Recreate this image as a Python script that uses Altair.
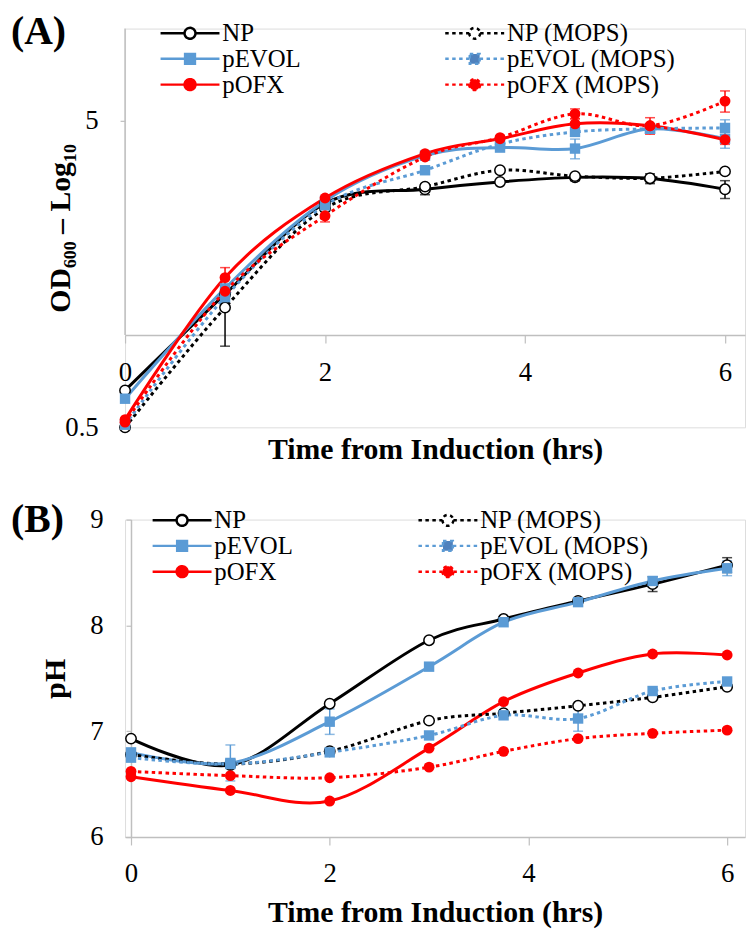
import math
import altair as alt
import pandas as pd

FONT = "Liberation Serif"
AXC = "#BFBFBF"

TIME = [0, 1, 2, 3, 3.75, 4.5, 5.25, 6]
SERIES = ["NP", "NP (MOPS)", "pEVOL", "pEVOL (MOPS)", "pOFX", "pOFX (MOPS)"]
COLORS = ["#000000", "#000000", "#5B9BD5", "#5B9BD5", "#FF0000", "#FF0000"]
FILLS = ["#FFFFFF", "#FFFFFF", "#5B9BD5", "#4F81BD", "#FF0000", "#FF0000"]
DOT = [3.5, 3.5]
DASHES = [[1, 0], DOT, [1, 0], DOT, [1, 0], DOT]
LEG_ORDER = ["NP", "pEVOL", "pOFX", "NP (MOPS)", "pEVOL (MOPS)", "pOFX (MOPS)"]
SOLID = ["NP", "pEVOL", "pOFX"]
DOTTED = ["NP (MOPS)", "pEVOL (MOPS)", "pOFX (MOPS)"]
OPEN_CIRCLE = ["NP", "NP (MOPS)"]
SQUARE = ["pEVOL", "pEVOL (MOPS)"]
FILLED_CIRCLE = ["pOFX", "pOFX (MOPS)"]

# ---- Panel A: OD600 (log10 scale) ----
OD_NP = [0.66, 1.36, 2.69, 2.99, 3.16, 3.27, 3.24, 2.99]
OD_NP_MOPS = [0.50, 1.23, 2.59, 3.05, 3.45, 3.30, 3.25, 3.42]
OD_PEVOL = [0.62, 1.42, 2.74, 3.85, 4.09, 4.06, 4.71, 4.37]
OD_PEVOL_MOPS = [0.51, 1.33, 2.65, 3.45, 4.20, 4.60, 4.71, 4.74]
OD_POFX = [0.53, 1.54, 2.80, 3.91, 4.37, 4.89, 4.82, 4.34]
OD_POFX_MOPS = [0.52, 1.39, 2.45, 3.81, 4.41, 5.27, 4.82, 5.80]

OD_ERR_NP = [0, 0, 0, 0.12, 0, 0.08, 0.12, 0.2]
OD_ERR_NP_MOPS = [0, 0.31, 0, 0, 0, 0, 0, 0]
OD_ERR_PEVOL = [0, 0, 0, 0.12, 0, 0.3, 0, 0.3]
OD_ERR_PEVOL_MOPS = [0, 0, 0, 0, 0, 0, 0, 0.3]
OD_ERR_POFX = [0, 0.12, 0, 0, 0, 0.2, 0.3, 0.15]
OD_ERR_POFX_MOPS = [0, 0, 0.11, 0, 0, 0.2, 0, 0.46]

OD_TICKS = [0.5, 5]
OD_DOMAIN = [0.5, 10]
OD_CROSS = 1

# ---- Panel B: pH ----
PH_NP = [6.93, 6.68, 7.26, 7.86, 8.06, 8.23, 8.39, 8.57]
PH_NP_MOPS = [6.78, 6.69, 6.81, 7.10, 7.17, 7.24, 7.32, 7.42]
PH_PEVOL = [6.80, 6.70, 7.09, 7.61, 8.03, 8.22, 8.42, 8.54]
PH_PEVOL_MOPS = [6.75, 6.69, 6.80, 6.96, 7.15, 7.12, 7.38, 7.47]
PH_POFX = [6.57, 6.44, 6.34, 6.84, 7.28, 7.55, 7.73, 7.72]
PH_POFX_MOPS = [6.62, 6.58, 6.56, 6.66, 6.81, 6.93, 6.98, 7.01]

PH_ERR_NP = [0, 0, 0, 0, 0, 0, 0.07, 0.07]
PH_ERR_NP_MOPS = [0, 0, 0, 0, 0, 0, 0, 0]
PH_ERR_PEVOL = [0, 0.17, 0.12, 0, 0, 0, 0, 0.07]
PH_ERR_PEVOL_MOPS = [0, 0, 0, 0, 0, 0.12, 0, 0]
PH_ERR_POFX = [0, 0, 0, 0, 0, 0, 0, 0]
PH_ERR_POFX_MOPS = [0, 0, 0, 0, 0, 0, 0, 0]

PH_TICKS = [6, 7, 8, 9]
X_TICKS = [0, 2, 4, 6]


def long(vals, errs):
    rows = []
    for s, v, e in zip(SERIES, vals, errs):
        for t, y, d in zip(TIME, v, e):
            rows.append({"series": s, "t": t, "v": y, "lo": y - d, "hi": y + d, "err": d})
    return pd.DataFrame(rows)


dfA = long([OD_NP, OD_NP_MOPS, OD_PEVOL, OD_PEVOL_MOPS, OD_POFX, OD_POFX_MOPS],
           [OD_ERR_NP, OD_ERR_NP_MOPS, OD_ERR_PEVOL, OD_ERR_PEVOL_MOPS, OD_ERR_POFX, OD_ERR_POFX_MOPS])
dfB = long([PH_NP, PH_NP_MOPS, PH_PEVOL, PH_PEVOL_MOPS, PH_POFX, PH_POFX_MOPS],
           [PH_ERR_NP, PH_ERR_NP_MOPS, PH_ERR_PEVOL, PH_ERR_PEVOL_MOPS, PH_ERR_POFX, PH_ERR_POFX_MOPS])


def ordered(values):
    m = dict(zip(SERIES, values))
    return [m[s] for s in LEG_ORDER]


# legend symbols: a line with its marker in the middle
CIRC = "M-2.7,0H-0.5M0.5,0H2.7M0.5,0A0.5,0.5,0,1,1,-0.5,0A0.5,0.5,0,1,1,0.5,0Z"
SQR = "M-2.7,0H-0.45M0.45,0H2.7M-0.45,-0.45H0.45V0.45H-0.45Z"
LEGEND_SHAPES = [SQR if s in SQUARE else CIRC for s in LEG_ORDER]


def make_legend(lx, ly, colpad, rowpad):
    return alt.Legend(
        title=None, orient="none", legendX=lx, legendY=ly, columns=2,
        columnPadding=colpad, rowPadding=rowpad, padding=0, symbolSize=484,
        labelFont=FONT, labelFontSize=25, labelColor="black", labelOffset=20,
        symbolStrokeWidth=2.5, symbolOpacity=1, labelLimit=300,
    )


def axis_common(**kw):
    d = dict(grid=False, domainColor=AXC, domainWidth=1.5, tickColor=AXC, tickWidth=1.2,
             labelFont=FONT, labelFontSize=27, labelColor="black", labelFlush=False,
             labelOverlap=False, titleFont=FONT, titleFontSize=30, titleFontWeight="bold",
             titleColor="black")
    d.update(kw)
    return alt.Axis(**d)


def only(names):
    return alt.FieldOneOfPredicate(field="series", oneOf=names)


def panel(df, xscale, xaxis, yscale, yaxis, ytitle, legend, title, extra=None):
    x = alt.X("t:Q", scale=xscale, axis=xaxis, title="Time from Induction (hrs)")
    y = alt.Y("v:Q", scale=yscale, axis=yaxis, title=ytitle)
    ylo = alt.Y("lo:Q", scale=yscale, axis=yaxis, title=ytitle)
    # data marks: colour scale without a legend (its domain order differs from the legend's)
    color = alt.Color("series:N", scale=alt.Scale(domain=SERIES, range=COLORS), legend=None)
    base = alt.Chart(df)
    solid = base.transform_filter(only(SOLID)).mark_line(
        interpolate="cardinal", strokeWidth=3).encode(x=x, y=y, color=color)
    dotted = base.transform_filter(only(DOTTED)).mark_line(
        interpolate="cardinal", strokeWidth=3, strokeDash=DOT).encode(x=x, y=y, color=color)
    errs = base.transform_filter("datum.err > 0").mark_errorbar(
        ticks={"size": 10}, thickness=1.5).encode(x=x, y=ylo, y2="hi:Q", color=color)
    p_open = base.transform_filter(only(OPEN_CIRCLE)).mark_point(
        shape="circle", filled=False, fill="white", size=110, strokeWidth=1.5, opacity=1
    ).encode(x=x, y=y, color=color)
    p_sq = base.transform_filter(only(SQUARE)).mark_point(
        shape="square", filled=True, size=110, opacity=1).encode(x=x, y=y, color=color)
    p_ci = base.transform_filter(only(FILLED_CIRCLE)).mark_point(
        shape="circle", filled=True, size=120, opacity=1).encode(x=x, y=y, color=color)
    # empty layer that only carries the legend symbols (line + marker)
    leg = base.transform_filter("false").mark_point(filled=False, strokeWidth=2.5, opacity=1).encode(
        x=x, y=y,
        stroke=alt.Stroke("series:N", scale=alt.Scale(domain=LEG_ORDER, range=ordered(COLORS)), legend=legend),
        strokeDash=alt.StrokeDash("series:N", scale=alt.Scale(domain=LEG_ORDER, range=ordered(DASHES)),
                                  legend=legend),
        shape=alt.Shape("series:N", scale=alt.Scale(domain=LEG_ORDER, range=LEGEND_SHAPES), legend=legend),
        fill=alt.Fill("series:N", scale=alt.Scale(domain=LEG_ORDER, range=ordered(FILLS)), legend=legend),
    )
    layers = ([extra] if extra is not None else []) + [solid, dotted, errs, p_open, p_sq, p_ci, leg]
    return alt.layer(*layers).properties(title=title)


# ---- Panel A ----
WA, HA = 625, 402
offA = -HA * math.log10(OD_CROSS / OD_DOMAIN[0]) / math.log10(OD_DOMAIN[1] / OD_DOMAIN[0])
yscaleA = alt.Scale(type="log", domain=OD_DOMAIN)
yaxisA = axis_common(values=OD_TICKS, format="~g", domain=False, tickSize=5, labelPadding=22,
                     titleX=-50, titleBaseline="bottom")
xaxisA = axis_common(values=X_TICKS, offset=offA, tickSize=8, labelPadding=17, titlePadding=49)
ytitleA = "OD₆₀₀ – Log₁₀"
vline = alt.Chart(pd.DataFrame({"c": [OD_CROSS]})).mark_rule(color=AXC, strokeWidth=1.5).encode(
    x=alt.value(0), y=alt.Y("c:Q", scale=yscaleA, axis=yaxisA, title=ytitleA), y2=alt.value(0))
titleA = alt.TitleParams("(A)", anchor="start", frame="group", dx=-115, dy=36, fontSize=40,
                         font=FONT, fontWeight="bold", color="black")
chartA = panel(dfA, alt.Scale(domain=[0, 6.2], nice=False), xaxisA, yscaleA, yaxisA, ytitleA,
               make_legend(53, -8, 139, -6), titleA, extra=vline).properties(width=WA, height=HA)

# ---- Panel B ----
WB, HB = 625, 320
yscaleB = alt.Scale(domain=[6, 9], nice=False)
yaxisB = axis_common(values=PH_TICKS, offset=-6, tickSize=5, labelPadding=23,
                     titleX=-61, titleBaseline="bottom")
xaxisB = axis_common(values=X_TICKS, tickSize=8, labelPadding=16, titlePadding=11)
titleB = alt.TitleParams("(B)", anchor="start", frame="group", dx=-115, dy=38, fontSize=40,
                         font=FONT, fontWeight="bold", color="black")
chartB = panel(dfB, alt.Scale(domain=[-0.06, 6.18], nice=False), xaxisB, yscaleB, yaxisB, "pH",
               make_legend(45, -12, 120, -2.5), titleB).properties(width=WB, height=HB)

chart = alt.vconcat(chartA, chartB, spacing=34).resolve_scale(
    color="independent", stroke="independent", strokeDash="independent", fill="independent",
    shape="independent"
).properties(padding={"left": 2, "top": 0, "right": 0, "bottom": 0}).configure_view(
    stroke=None).configure(background="white")

chart.save("out.html", embed_options={"renderer": "svg", "actions": False})
